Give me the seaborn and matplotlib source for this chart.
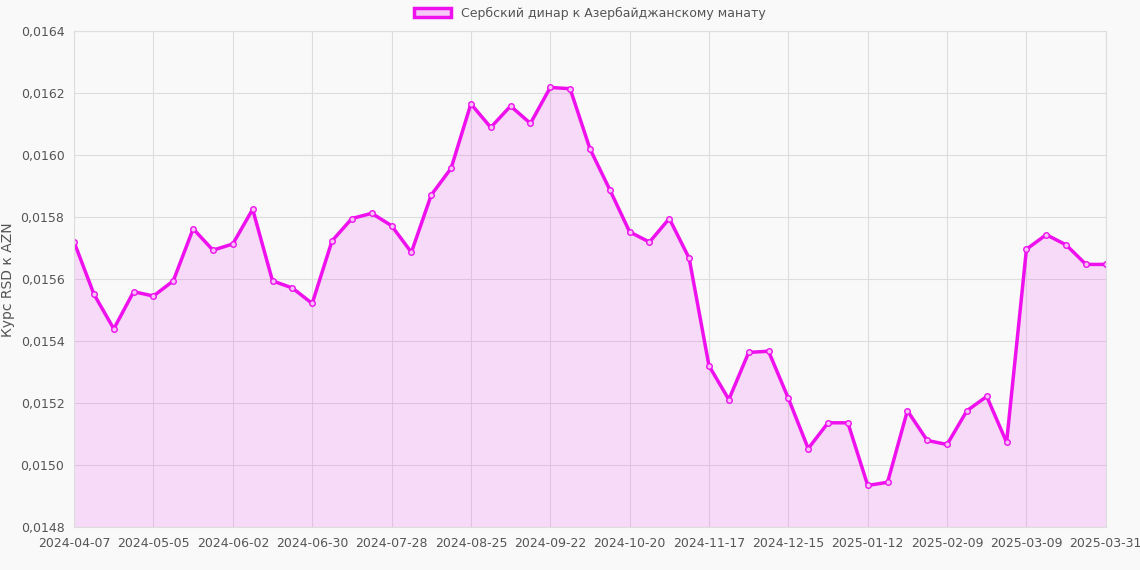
import numpy as np
import pandas as pd
import matplotlib
matplotlib.use('Agg')
import matplotlib.pyplot as plt
import seaborn as sns

dates = list(pd.date_range('2024-04-07', periods=52, freq='7D').strftime('%Y-%m-%d')) + ['2025-03-31']
rates = [0.01572, 0.015552, 0.01544, 0.01556, 0.015546, 0.015595, 0.015763, 0.015694,
         0.015714, 0.015826, 0.015595, 0.015572, 0.015522, 0.015724, 0.015796, 0.015813,
         0.015773, 0.015687, 0.015872, 0.015958, 0.016166, 0.01609, 0.016159, 0.016103,
         0.016219, 0.016215, 0.016021, 0.015889, 0.015753, 0.01572, 0.015796, 0.015668,
         0.015321, 0.015212, 0.015364, 0.015368, 0.015216, 0.015054, 0.015137, 0.015137,
         0.014935, 0.014945, 0.015176, 0.01508, 0.015067, 0.015176, 0.015222, 0.015074,
         0.015697, 0.015744, 0.015711, 0.015648, 0.015648]

df = pd.DataFrame({'date': dates, 'rate': rates})
df['idx'] = np.arange(len(df))

sns.set_style('whitegrid')
plt.rcParams['font.family'] = ['DejaVu Sans']
color = '#ee11ee'

fig, ax = plt.subplots(figsize=(11.4, 5.7), dpi=100)
fig.patch.set_facecolor('#f9f9f9')
ax.set_facecolor('#f9f9f9')
ax.fill_between(df['idx'], df['rate'], 0.0148, color=color, alpha=0.13, linewidth=0)
sns.lineplot(data=df, x='idx', y='rate', ax=ax, color=color, linewidth=2.5,
             marker='o', markersize=4, markerfacecolor='#f7c0f7', markeredgecolor=color,
             markeredgewidth=1, label='Сербский динар к Азербайджанскому манату')

ticks = list(range(0, 49, 4)) + [52]
ax.set_xticks(ticks)
ax.set_xticklabels([dates[i] for i in ticks], fontsize=9, color='#555555')
ax.set_xlim(0, 52)
ax.set_ylim(0.0148, 0.0164)
ax.set_yticks(np.arange(0.0148, 0.01641, 0.0002))
ax.set_yticklabels([f'{v:.4f}'.replace('.', ',') for v in np.arange(0.0148, 0.01641, 0.0002)],
                   fontsize=9, color='#555555')
ax.set_xlabel('')
ax.set_ylabel('Курс RSD к AZN', fontsize=10, color='#555555')
ax.grid(color='#dddddd', linewidth=0.8)
for s in ax.spines.values():
    s.set_color('#dddddd')

handles = [plt.Rectangle((0, 0), 1, 1, facecolor='#f5c8f5', edgecolor=color, linewidth=2.5)]
ax.legend(handles, ['Сербский динар к Азербайджанскому манату'], loc='lower center',
          bbox_to_anchor=(0.5, 1.0), frameon=False, fontsize=9, handlelength=3,
          labelcolor='#555555')

fig.subplots_adjust(left=0.065, right=0.97, top=0.945, bottom=0.075)
fig.savefig('out.png', dpi=100, facecolor=fig.get_facecolor())
